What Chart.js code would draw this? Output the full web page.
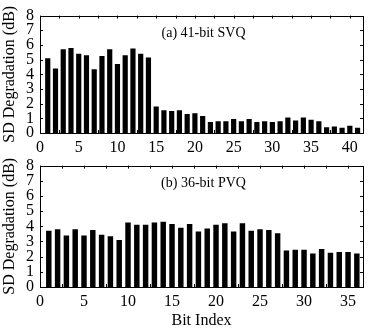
<!DOCTYPE html>
<html>
<head>
<meta charset="utf-8">
<script src="https://cdn.jsdelivr.net/npm/chart.js@4/dist/chart.umd.min.js"></script>
<style>
  body { margin: 0; background: #fff; }
  #wrap { position: relative; width: 372px; height: 330px; }
  canvas { position: absolute; left: 0; }
</style>
</head>
<body>
<div id="wrap">
  <canvas id="chart-svq" width="372" height="155" style="top:0"></canvas>
  <canvas id="chart-pvq" width="372" height="180" style="top:150px"></canvas>
</div>
<script>
// datos
const bitsSvq = [1, 2, 3, 4, 5, 6, 7, 8, 9, 10, 11, 12, 13, 14, 15, 16, 17, 18, 19, 20,
  21, 22, 23, 24, 25, 26, 27, 28, 29, 30, 31, 32, 33, 34, 35, 36, 37, 38, 39, 40, 41];
const degSvq = [5.1, 4.4, 5.7, 5.8, 5.4, 5.3, 4.35, 5.25, 5.7, 4.7, 5.3, 5.75, 5.4, 5.15,
  1.8, 1.55, 1.5, 1.55, 1.3, 1.35, 1.15, 0.75, 0.8, 0.8, 0.95, 0.8, 0.95, 0.75, 0.8, 0.75,
  0.8, 1.05, 0.85, 1.05, 0.9, 0.8, 0.4, 0.45, 0.35, 0.5, 0.35];

const bitsPvq = [1, 2, 3, 4, 5, 6, 7, 8, 9, 10, 11, 12, 13, 14, 15, 16, 17, 18,
  19, 20, 21, 22, 23, 24, 25, 26, 27, 28, 29, 30, 31, 32, 33, 34, 35, 36];
const degPvq = [3.7, 3.8, 3.4, 3.8, 3.4, 3.75, 3.45, 3.35, 3.1, 4.25, 4.1, 4.1, 4.25, 4.3,
  4.15, 3.9, 4.15, 3.65, 3.85, 4.1, 4.2, 3.65, 4.2, 3.7, 3.8, 3.75, 3.55, 2.4, 2.45, 2.45,
  2.2, 2.5, 2.25, 2.3, 2.3, 2.2];

const xTicksSvq = [0, 5, 10, 15, 20, 25, 30, 35, 40];
const xTicksPvq = [0, 5, 10, 15, 20, 25, 30, 35];
const yTicks = [0, 1, 2, 3, 4, 5, 6, 7, 8];

const FONT = "Liberation Serif";

// marco y marcas hacia adentro + rotulo del panel
const framePlugin = {
  id: "frame",
  afterDraw(chart, args, opts) {
    const ctx = chart.ctx;
    const a = chart.chartArea;
    const xs = chart.scales.x;
    const ys = chart.scales.y;
    ctx.save();
    ctx.strokeStyle = "#000";
    ctx.lineWidth = 1;
    ctx.beginPath();
    opts.xMarks.forEach((v) => {
      const px = Math.round(xs.getPixelForValue(v)) + 0.5;
      ctx.moveTo(px, a.bottom);
      ctx.lineTo(px, a.bottom - 3);
      ctx.moveTo(px, a.top);
      ctx.lineTo(px, a.top + 3);
    });
    yTicks.forEach((v) => {
      const py = Math.round(ys.getPixelForValue(v)) + 0.5;
      ctx.moveTo(a.left, py);
      ctx.lineTo(a.left + 3, py);
      ctx.moveTo(a.right, py);
      ctx.lineTo(a.right - 3, py);
    });
    ctx.stroke();
    ctx.strokeRect(Math.round(a.left) + 0.5, Math.round(a.top) + 0.5,
      Math.round(a.right - a.left), Math.round(a.bottom - a.top));
    ctx.fillStyle = "#000";
    ctx.font = "14px '" + FONT + "'";
    ctx.textAlign = "center";
    ctx.textBaseline = "middle";
    ctx.fillText(opts.label, (a.left + a.right) / 2 + 2, a.top + 18);
    ctx.restore();
  },
};

function halfSteps(ticks, max) {
  const out = [];
  for (let i = 0; i < ticks.length; i++) {
    out.push(ticks[i]);
    if (ticks[i] + 2.5 < max) out.push(ticks[i] + 2.5);
  }
  return out;
}

function makeChart(id, bits, values, xTicks, xMax, label, opt) {
  const ctx = document.getElementById(id).getContext("2d");
  return new Chart(ctx, {
    type: "bar",
    data: {
      datasets: [
        {
          data: bits.map((b, i) => ({ x: b, y: values[i] })),
          backgroundColor: "#000",
          borderWidth: 0,
          barPercentage: opt.barPct,
          categoryPercentage: 1,
        },
      ],
    },
    options: {
      responsive: false,
      animation: false,
      layout: {
        padding: { left: 0, right: 9, top: opt.padTop, bottom: 0 },
      },
      plugins: {
        legend: { display: false },
        tooltip: { enabled: false },
        frame: { label: label, xMarks: halfSteps(xTicks, xMax) },
      },
      scales: {
        x: {
          type: "linear",
          min: 0,
          max: xMax,
          offset: false,
          afterBuildTicks: (scale) => {
            scale.ticks = xTicks.map((v) => ({ value: v }));
          },
          afterFit: (scale) => {
            scale.height = opt.xHeight;
          },
          grid: { display: false, drawTicks: false },
          border: { display: false },
          title: {
            display: opt.showTitle,
            text: "Bit Index",
            color: "#000",
            padding: { top: 0, bottom: 0 },
            font: { family: FONT, size: 16 },
          },
          ticks: {
            color: "#000",
            padding: 5,
            maxRotation: 0,
            autoSkip: false,
            font: { family: FONT, size: 16 },
          },
        },
        y: {
          min: 0,
          max: 8,
          afterBuildTicks: (scale) => {
            scale.ticks = yTicks.map((v) => ({ value: v }));
          },
          afterFit: (scale) => {
            scale.width = 40;
          },
          grid: { display: false, drawTicks: false },
          border: { display: false },
          title: {
            display: true,
            text: "SD Degradation (dB)",
            color: "#000",
            padding: { top: 0, bottom: 0 },
            font: { family: FONT, size: 16 },
          },
          ticks: {
            color: "#000",
            padding: 6,
            autoSkip: false,
            font: { family: FONT, size: 16 },
          },
        },
      },
    },
    plugins: [framePlugin],
  });
}

makeChart("chart-svq", bitsSvq, degSvq, xTicksSvq, 41.7, "(a) 41-bit SVQ",
  { barPct: 0.67, padTop: 10, xHeight: 22, showTitle: false });
makeChart("chart-pvq", bitsPvq, degPvq, xTicksPvq, 36.7, "(b) 36-bit PVQ",
  { barPct: 0.62, padTop: 15, xHeight: 43, showTitle: true });
</script>
</body>
</html>
